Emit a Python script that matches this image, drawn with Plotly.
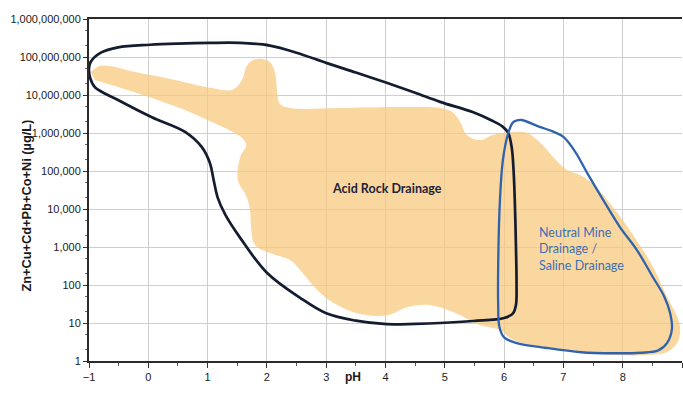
import plotly.graph_objects as go

# ---- data (pH, metal concentration in µg/L) ----
field_ph = [-0.97, -0.82, -0.65, -0.22, 0.45, 1.07, 1.41, 1.58, 1.66, 1.77, 1.92, 2.05, 2.14, 2.17,
            2.22, 2.39, 3.23, 4.36, 4.92, 5.12, 5.26, 5.37, 5.59, 5.81, 6.15, 6.39, 6.61, 6.83,
            7.06, 7.28, 7.48, 7.74, 8.00, 8.34, 8.51, 8.75, 8.92, 8.97, 8.92, 8.75, 8.41, 7.84,
            7.28, 6.72, 6.15, 5.93, 5.59, 5.14, 4.70, 4.36, 4.03, 3.52, 3.12, 2.85, 2.56, 2.39,
            2.05, 1.80, 1.73, 1.72, 1.66, 1.51, 1.55, 1.65, 1.58, 1.46, 1.07, 0.62, 0.06, -0.51,
            -0.90]
field_conc = [4.0e7, 5.8e7, 5.8e7, 4.0e7, 2.5e7, 1.53e7, 1.36e7, 2.5e7, 5.8e7, 8.3e7, 8.85e7, 7.4e7,
              3.8e7, 1.36e7, 5.8e6, 4.55e6, 4.55e6, 4.8e6, 4.55e6, 3.6e6, 1.95e6, 8.9e5, 6.5e5,
              8.9e5, 1.06e6, 1.0e6, 5.5e5, 2.3e5, 1.06e5, 7.9e4, 4.8e4, 1.73e4, 5.1e3, 830, 300,
              48, 14.4, 6.5, 3.0, 1.73, 1.44, 1.44, 1.73, 2.2, 3.6, 6.5, 8.9, 19.5, 30, 26, 16,
              18, 34, 74, 250, 455, 695, 1130, 3800, 7850, 2.07e4, 5.8e4, 2.3e5, 4.8e5, 7.4e5,
              1.0e6, 1.95e6, 4.0e6, 8.3e6, 1.63e7, 2.5e7]

ard_ph = [-1.00, -0.97, -0.80, -0.51, 0.03, 0.50, 1.04, 1.55, 2.05, 2.50, 3.01, 3.50, 4.02,
          4.50, 4.92, 5.48, 5.80, 5.98, 6.07, 6.13, 6.16, 6.18, 6.20, 6.21, 6.20, 6.15, 6.00,
          5.48, 4.92, 4.50, 4.02, 3.50, 3.00, 2.56, 2.00, 1.55, 1.30, 1.17, 1.10, 1.04, 0.90,
          0.62, 0.06, -0.51, -0.90, -0.98, -1.00]
ard_conc = [5.1e7, 7.5e7, 1.3e8, 1.8e8, 2.1e8, 2.25e8, 2.35e8, 2.35e8, 2.0e8, 1.3e8, 6.9e7,
            3.9e7, 2.1e7, 1.15e7, 6.6e6, 3.5e6, 2.1e6, 1.45e6, 1.0e6, 4.0e5, 1.0e5, 1.74e4,
            1000, 100, 30, 18, 13.5, 11.3, 10, 9.5, 9.3, 11.5, 18, 46, 210, 1740, 7000, 2.0e4,
            6.0e4, 1.6e5, 4.3e5, 1.07e6, 2.6e6, 7.4e6, 1.6e7, 2.8e7, 5.1e7]

nmd_ph = [6.30, 6.60, 6.82, 7.00, 7.20, 7.40, 7.67, 7.95, 8.24, 8.51, 8.70, 8.80, 8.83, 8.75,
          8.60, 8.30, 7.84, 7.30, 6.72, 6.20, 6.00, 5.92, 5.90, 5.90, 5.93, 5.98, 6.07, 6.15,
          6.22, 6.30]
nmd_conc = [2.2e6, 1.45e6, 1.1e6, 7.9e5, 3.2e5, 8.9e4, 1.74e4, 3.4e3, 830, 160, 50, 18, 7, 3,
            1.9, 1.65, 1.6, 1.7, 2.2, 3.0, 4.2, 8, 30, 300, 1.74e4, 1.95e5, 1.0e6, 1.9e6,
            2.15e6, 2.2e6]

x_ticks = [-1, 0, 1, 2, 3, 4, 5, 6, 7, 8, 9]
y_ticks = [1, 10, 100, 1e3, 1e4, 1e5, 1e6, 1e7, 1e8, 1e9]
y_tick_text = ["1", "10", "100", "1,000", "10,000", "100,000", "1,000,000",
               "10,000,000", "100,000,000", "1,000,000,000"]

fig = go.Figure()
fig.add_trace(go.Scatter(x=field_ph, y=field_conc, mode="lines", fill="toself",
                         fillcolor="rgba(250,202,128,0.75)",
                         line=dict(width=0, shape="spline", smoothing=1.0),
                         hoverinfo="skip", showlegend=False))
fig.add_trace(go.Scatter(x=ard_ph, y=ard_conc, mode="lines",
                         line=dict(color="#141c30", width=2.7, shape="spline", smoothing=1.0),
                         showlegend=False))
fig.add_trace(go.Scatter(x=nmd_ph, y=nmd_conc, mode="lines",
                         line=dict(color="#2f63ad", width=2.3, shape="spline", smoothing=1.0),
                         showlegend=False))

tick_font = dict(family="Liberation Sans, Arial", size=11, color="#1a1a1a")
fig.update_layout(
    width=683, height=393,
    margin=dict(l=89, r=1, t=19, b=32),
    paper_bgcolor="white", plot_bgcolor="white",
    xaxis=dict(range=[-1, 9], tickvals=x_ticks, ticks="outside", ticklen=5, tickwidth=1,
               tickcolor="#333", showgrid=True, gridcolor="#cfcfcf", gridwidth=1,
               showline=True, linecolor="#2b2b2b", linewidth=2, mirror=True,
               zeroline=False, tickfont=tick_font,
               minor=dict(dtick=0.5, ticks="outside", ticklen=3, tickcolor="#555", showgrid=False)),
    yaxis=dict(type="log", range=[0, 9], tickvals=y_ticks, ticktext=y_tick_text,
               ticks="outside", ticklen=4, tickcolor="#333", showgrid=True, gridcolor="#cfcfcf",
               gridwidth=1, showline=True, linecolor="#2b2b2b", linewidth=2, zeroline=False,
               tickfont=tick_font,
               minor=dict(ticks="outside", ticklen=2, tickcolor="#666", showgrid=False)),
)

fig.add_annotation(text="Acid Rock Drainage", x=4.02, y=4.55, xref="x", yref="y",
                   showarrow=False, font=dict(family="Lato, Open Sans", size=12.5,
                                                color="#1b2338", weight="bold"))
fig.add_annotation(text="Neutral Mine<br>Drainage /<br>Saline Drainage", x=6.55, y=2.95,
                   xref="x", yref="y", xanchor="left", yanchor="middle", align="left",
                   showarrow=False, font=dict(family="Lato, Open Sans", size=12.5, color="#3b6fb6"))
fig.add_annotation(text="<b>pH</b>", x=3.45, y=-0.073, xref="x", yref="paper",
                   showarrow=False, font=dict(family="Liberation Sans, Arial", size=12, color="#1a1a1a"))
fig.add_annotation(text="<b>Zn+Cu+Cd+Pb+Co+Ni (µg/L)</b>", x=-0.1214, y=0.453,
                   xref="paper", yref="paper", textangle=-90, showarrow=False,
                   font=dict(family="Liberation Sans, Arial", size=12.8, color="#1a1a1a"))

fig.write_html("out.html")
